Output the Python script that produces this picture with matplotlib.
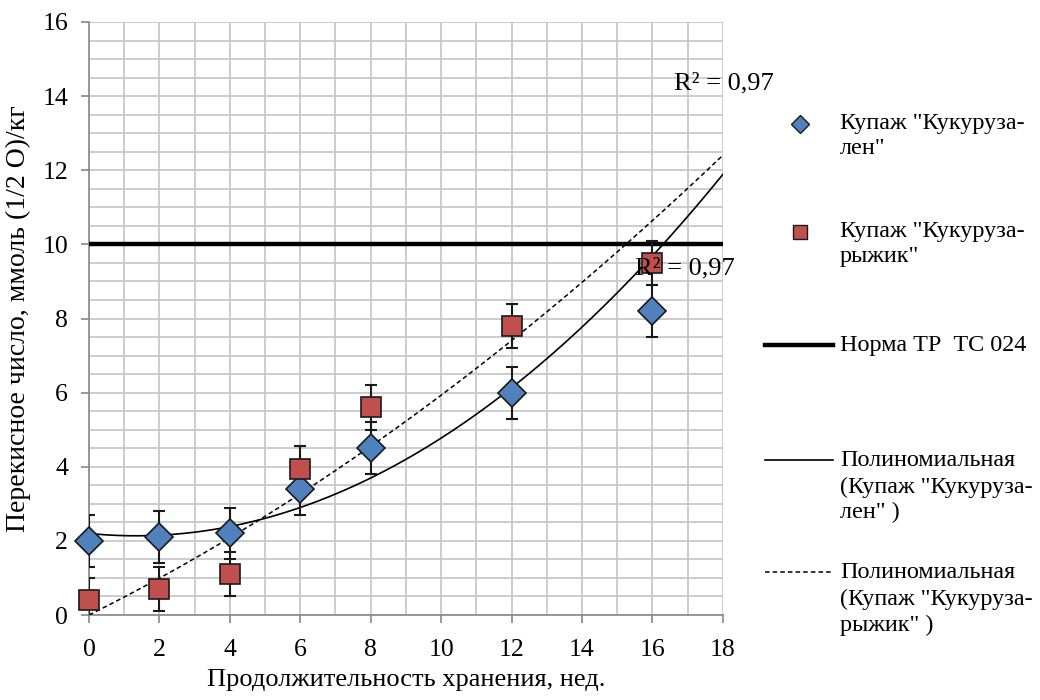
import numpy as np
import matplotlib
matplotlib.use("Agg")
import matplotlib.pyplot as plt
from matplotlib.lines import Line2D

plt.rcParams['font.family'] = ['Liberation Serif', 'DejaVu Serif']

# ----------------------------
# Data
# ----------------------------
weeks = np.array([0, 2, 4, 6, 8, 12, 16])
zalen = np.array([2.0, 2.1, 2.2, 3.4, 4.5, 6.0, 8.2])
zalen_err = np.array([0.7, 0.7, 0.7, 0.7, 0.7, 0.7, 0.7])
ryzhik = np.array([0.4, 0.7, 1.1, 3.95, 5.6, 7.8, 9.5])
ryzhik_err = np.array([0.6, 0.6, 0.6, 0.6, 0.6, 0.6, 0.6])

norm_value = 10

# polynomial trend coefficients (a*x^2 + b*x + c)
trend_zalen = [0.0351, -0.0937, 2.2]
trend_ryzhik = [0.012, 0.473, 0.0]
r2_text = "R² = 0,97"

blue = "#4f81bd"
red = "#c0504d"
edge = "#1a1a1a"

# ----------------------------
# Figure
# ----------------------------
fig = plt.figure(figsize=(10.4, 7), dpi=100)
ax = fig.add_axes([0.0856, 0.1214, 0.6094, 0.8472])

ax.set_xlim(0, 18)
ax.set_ylim(0, 16)
ax.set_xticks(np.arange(0, 19, 2))
ax.set_yticks(np.arange(0, 17, 2))
ax.set_xticks(np.arange(0, 19, 1), minor=True)
ax.set_yticks(np.arange(0, 16.5, 0.5), minor=True)
ax.grid(True, which="both", color="#c8c8c8", linewidth=1.3)
ax.set_axisbelow(True)
ax.tick_params(which="minor", length=0)
ax.tick_params(which="major", length=6, width=1.2, color="#888888",
               labelsize=18.5, direction="out")
ax.tick_params(axis="y", pad=9)
ax.tick_params(axis="x", pad=11)
for side in ["top", "right"]:
    ax.spines[side].set_visible(False)
for side in ["left", "bottom"]:
    ax.spines[side].set_color("#888888")
    ax.spines[side].set_linewidth(1.2)

# norm line
ax.axhline(norm_value, color="black", linewidth=3.2, zorder=3)

# trend lines
xs = np.linspace(0, 18, 200)
ax.plot(xs, np.polyval(trend_zalen, xs), color="black", linewidth=1.2, zorder=3)
ax.plot(xs, np.polyval(trend_ryzhik, xs), color="black", linewidth=1.1,
        linestyle=(0, (3, 2)), zorder=3)

# error bars (clipped to the plot area)
ax.errorbar(weeks, zalen, yerr=zalen_err, fmt="none", ecolor=edge,
            elinewidth=1.5, capsize=4, capthick=1.5, zorder=4)
ax.errorbar(weeks, ryzhik, yerr=ryzhik_err, fmt="none", ecolor=edge,
            elinewidth=1.5, capsize=4, capthick=1.5, zorder=4)

# markers
ax.plot(weeks, zalen, "D", color=blue, markersize=14, markeredgecolor=edge,
        markeredgewidth=1.2, zorder=5, clip_on=False)
ax.plot(weeks, ryzhik, "s", color=red, markersize=14.5, markeredgecolor=edge,
        markeredgewidth=1.2, zorder=5, clip_on=False)

# R^2 labels
ax.text(16.6, 14.33, r2_text, fontsize=19, va="center", ha="left", zorder=6)
ax.text(15.5, 9.36, r2_text, fontsize=19, va="center", ha="left", zorder=6)

ax.set_xlabel("Продолжительность хранения, нед.", fontsize=19, labelpad=6)
ax.set_ylabel("Перекисное число, ммоль (1/2 О)/кг", fontsize=20, labelpad=8)

# ----------------------------
# Legend (placed by hand)
# ----------------------------
W, H = 1040.0, 700.0

def fx(px):
    return px / W

def fy(py):
    return 1 - py / H

labels = [
    ("Купаж \"Кукуруза-\nлен\"", 136),
    ("Купаж \"Кукуруза-\nрыжик\"", 244),
    ("Норма ТР  ТС 024", 345),
    ("Полиномиальная\n(Купаж \"Кукуруза-\nлен\" )", 487),
    ("Полиномиальная\n(Купаж \"Кукуруза-\nрыжик\" )", 599),
]
first_line = [124, 232, 345, 460, 572]

for (text, yc) in labels:
    fig.text(fx(840), fy(yc), text, fontsize=17.4, va="center", ha="left",
             linespacing=1.3)

fig.add_artist(Line2D([fx(800)], [fy(first_line[0])], marker="D", markersize=9,
                      color=blue, markeredgecolor=edge, markeredgewidth=1.0))
fig.add_artist(Line2D([fx(800)], [fy(first_line[1])], marker="s", markersize=10,
                      color=red, markeredgecolor=edge, markeredgewidth=1.0))
fig.add_artist(Line2D([fx(765), fx(833)], [fy(first_line[2])] * 2,
                      color="black", linewidth=3.2))
fig.add_artist(Line2D([fx(765), fx(833)], [fy(first_line[3])] * 2,
                      color="black", linewidth=1.2))
fig.add_artist(Line2D([fx(765), fx(833)], [fy(first_line[4])] * 2,
                      color="black", linewidth=1.1, linestyle=(0, (3, 2))))

fig.savefig("out.png", dpi=100)
